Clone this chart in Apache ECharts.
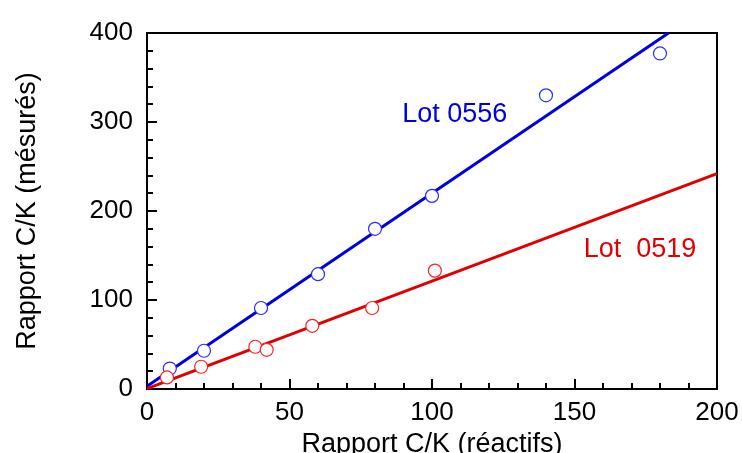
<!DOCTYPE html>
<html>
<head>
<meta charset="UTF-8">
<title>Rapport C/K</title>
<script src="https://cdn.jsdelivr.net/npm/echarts@6/dist/echarts.min.js"></script>
<style>
html, body { margin: 0; padding: 0; background: #fff; }
#main { width: 742px; height: 453px; }
</style>
</head>
<body>
<div id="main"></div>
<script>
// Lot 0556 : points mesurés + droite
var lot0556X = [8, 20, 40, 60, 80, 100, 140, 180];
var lot0556Y = [23, 43, 91, 129, 180, 217, 330, 377];
var fit0556X = [0, 183];
var fit0556Y = [3, 400];

// Lot 0519
var lot0519X = [7, 19, 38, 42, 58, 79, 101];
var lot0519Y = [13, 25, 47.5, 44, 71, 91, 133];
var fit0519X = [0, 200];
var fit0519Y = [0.5, 242];

var xTicks = [0, 50, 100, 150, 200];
var yTicks = [0, 100, 200, 300, 400];

function pairs(xs, ys) {
	return xs.map(function (x, i) { return [x, ys[i]]; });
}

var font = 'Liberation Sans, Arial, sans-serif';

function axis(ticks, name, gap, rot, margin) {
	return {
		type: 'value',
		min: ticks[0],
		max: ticks[ticks.length - 1],
		interval: ticks[1] - ticks[0],
		name: name,
		nameLocation: 'middle',
		nameGap: gap,
		nameRotate: rot,
		nameTextStyle: { color: '#000', fontSize: 27, fontFamily: font },
		axisLine: { show: true, onZero: false, lineStyle: { color: '#000', width: 2 } },
		axisTick: { show: true, inside: true, length: 10, lineStyle: { color: '#000', width: 2 } },
		minorTick: { show: true, splitNumber: 5, length: 6, lineStyle: { color: '#000', width: 2 } },
		axisLabel: { color: '#000', fontSize: 26, fontFamily: font, margin: margin },
		splitLine: { show: false }
	};
}

var myChart = echarts.init(document.getElementById('main'));

var option = {
	animation: false,
	backgroundColor: '#fff',
	grid: {
		left: 147, right: 25, top: 33, bottom: 64,
		containLabel: false, outerBoundsMode: 'none',
		show: true, borderColor: '#000', borderWidth: 2
	},
	xAxis: axis(xTicks, 'Rapport C/K (réactifs)', 35, 0, 11),
	yAxis: axis(yTicks, 'Rapport C/K (mésurés)', 106, 90, 14),
	series: [
		{
			type: 'line',
			data: pairs(fit0556X, fit0556Y),
			showSymbol: false,
			lineStyle: { color: '#0000dd', width: 3 },
			z: 2,
			markPoint: {
				symbol: 'circle', symbolSize: 0,
				data: [{ coord: [108, 308], value: 'Lot 0556' }],
				label: { show: true, position: 'inside', formatter: 'Lot 0556', color: '#0000dd', fontSize: 27, fontFamily: font }
			}
		},
		{
			type: 'line',
			data: pairs(fit0519X, fit0519Y),
			showSymbol: false,
			lineStyle: { color: '#e00000', width: 3 },
			z: 2,
			markPoint: {
				symbol: 'circle', symbolSize: 0,
				data: [{ coord: [173, 157], value: 'Lot  0519' }],
				label: { show: true, position: 'inside', formatter: 'Lot\u00a0\u00a00519', color: '#e00000', fontSize: 27, fontFamily: font }
			}
		},
		{
			type: 'scatter',
			data: pairs(lot0556X, lot0556Y),
			symbol: 'circle',
			symbolSize: 13,
			itemStyle: { color: '#fff', opacity: 1, borderColor: '#2a2aff', borderWidth: 1.2 },
			z: 3
		},
		{
			type: 'scatter',
			data: pairs(lot0519X, lot0519Y),
			symbol: 'circle',
			symbolSize: 13,
			itemStyle: { color: '#fff', opacity: 1, borderColor: '#ff2020', borderWidth: 1.2 },
			z: 3
		}
	]
};
myChart.setOption(option);
</script>
</body>
</html>
